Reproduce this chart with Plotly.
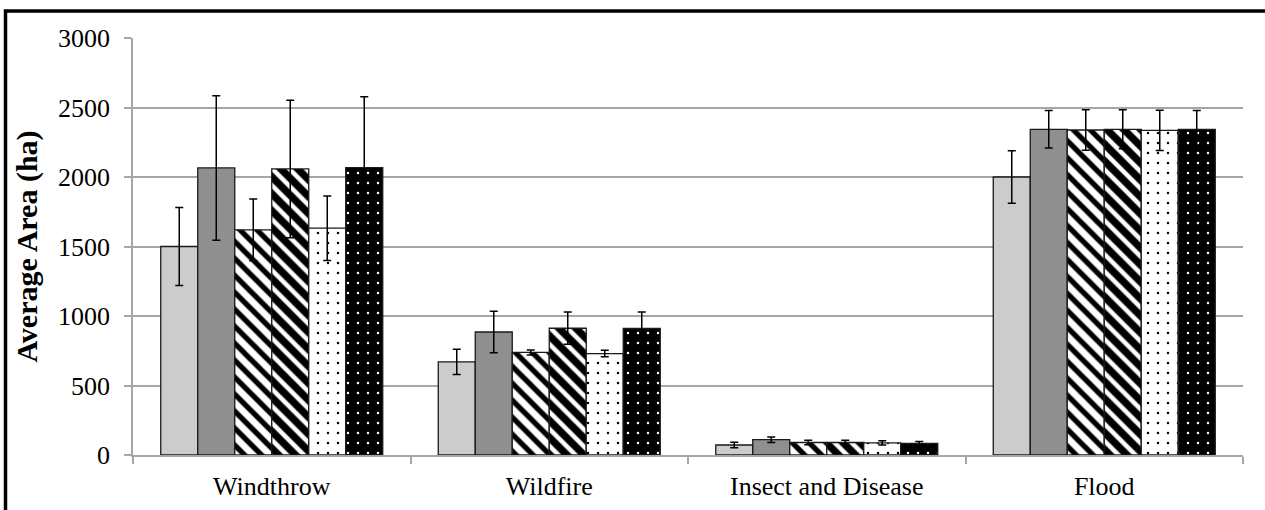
import plotly.graph_objects as go

categories = ["Windthrow", "Wildfire", "Insect and Disease", "Flood"]

s1 = [1500, 670, 72, 2000]
s2 = [2065, 885, 110, 2343]
s3 = [1620, 738, 90, 2338]
s4 = [2058, 912, 90, 2343]
s5 = [1632, 730, 87, 2335]
s6 = [2068, 910, 83, 2343]

e1 = [280, 90, 20, 188]
e2 = [520, 150, 20, 135]
e3 = [222, 18, 16, 145]
e4 = [495, 116, 17, 140]
e5 = [232, 24, 15, 145]
e6 = [510, 118, 15, 135]

series = [s1, s2, s3, s4, s5, s6]
errors = [e1, e2, e3, e4, e5, e6]
names = ["S1", "S2", "S3", "S4", "S5", "S6"]

styles = [
    dict(color="#cccccc"),
    dict(color="#8f8f8f"),
    dict(color="white", pattern=dict(shape="\\", fillmode="replace", fgcolor="#000000", fgopacity=1,
                                     bgcolor="#ffffff", size=12, solidity=0.45)),
    dict(color="black", pattern=dict(shape="\\", fillmode="replace", fgcolor="#000000", fgopacity=1,
                                     bgcolor="#ffffff", size=12, solidity=0.62)),
    dict(color="white", pattern=dict(shape=".", fillmode="replace", fgcolor="#000000", fgopacity=1,
                                     bgcolor="#ffffff", size=10, solidity=0.05)),
    dict(color="black", pattern=dict(shape=".", fillmode="replace", fgcolor="#ffffff", fgopacity=1,
                                     bgcolor="#000000", size=10, solidity=0.05)),
]

FONT = "Liberation Serif, Times New Roman, serif"

fig = go.Figure()
for name, vals, errs, st in zip(names, series, errors, styles):
    marker = dict(st)
    marker["line"] = dict(color="#1a1a1a", width=1.3)
    fig.add_trace(go.Bar(
        x=categories, y=vals, name=name, marker=marker,
        error_y=dict(type="data", array=errs, visible=True, color="black", thickness=1.5, width=4),
        showlegend=False,
    ))

fig.update_layout(
    width=1265, height=510,
    margin=dict(l=133, r=22, t=38, b=55),
    barmode="group", bargap=0.2, bargroupgap=0,
    plot_bgcolor="white", paper_bgcolor="white",
    font=dict(family=FONT, color="black", size=26),
    xaxis=dict(
        showline=True, linecolor="#a6a6a6", linewidth=1.5, automargin=False,
        ticks="outside", tickson="boundaries", ticklen=7, tickcolor="#a6a6a6", tickwidth=1.5,
        tickfont=dict(size=26, family=FONT), showgrid=False, ticklabelstandoff=7,
    ),
    yaxis=dict(
        range=[0, 3000], dtick=500, showline=True, linecolor="#a6a6a6", linewidth=1.5,
        automargin=False,
        ticks="outside", ticklen=7, tickcolor="#a6a6a6", tickwidth=1.5,
        gridcolor="#a6a6a6", gridwidth=1.5, zeroline=False,
        tickfont=dict(size=26, family=FONT), ticklabelstandoff=9,
        title=dict(text="<b>Average Area (ha)</b>", font=dict(size=30, family=FONT), standoff=12),
    ),
)

fig.add_shape(type="rect", xref="paper", yref="paper",
              x0=(5.5 - 133) / 1110, x1=(1275 - 133) / 1110,
              y0=(455 - 520) / 417, y1=(455 - 11) / 417,
              line=dict(color="black", width=3.5), fillcolor="rgba(0,0,0,0)", layer="above")

fig.write_html("out.html", config={"displayModeBar": False},
               post_script="document.body.style.margin='0';document.body.style.overflow='hidden';")
